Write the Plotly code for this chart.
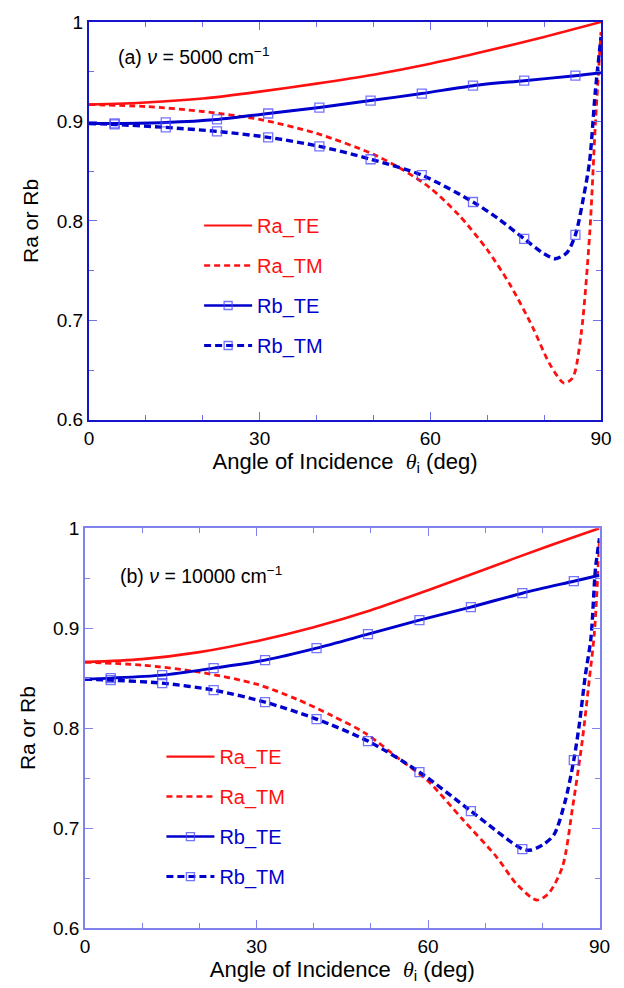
import plotly.graph_objects as go

# ---------------- data ----------------
# marker angles used on the Rb curves
marker_angles = [4.5, 13.5, 22.5, 31.5, 40.5, 49.5, 58.5, 67.5, 76.5, 85.5]

# Panel (a): nu = 5000 cm^-1
a_ra_te_ang = [0, 10, 20, 30, 40, 50, 60, 70, 80, 90]
a_ra_te = [0.917, 0.919, 0.923, 0.930, 0.938, 0.947, 0.958, 0.971, 0.985, 1.0]

a_ra_tm_ang = [0, 10, 20, 30, 40, 50, 55, 60, 65, 70, 74, 78, 81, 83.5, 85, 86.5, 88, 89, 90]
a_ra_tm = [0.917, 0.915, 0.910, 0.902, 0.888, 0.867, 0.852, 0.833, 0.806, 0.771, 0.736,
           0.693, 0.656, 0.637, 0.642, 0.686, 0.786, 0.896, 0.99]

a_rb_te_ang = [0, 4.5, 13.5, 22.5, 31.5, 40.5, 49.5, 58.5, 67.5, 76.5, 85.5, 90]
a_rb_te = [0.898, 0.898, 0.899, 0.902, 0.908, 0.914, 0.921, 0.928, 0.936, 0.941, 0.946, 0.949]

a_rb_tm_ang = [0, 4.5, 13.5, 22.5, 31.5, 40.5, 49.5, 58.5, 67.5, 72, 76.5, 80, 82, 84, 85.5,
               87, 88, 89, 90]
a_rb_tm = [0.898, 0.897, 0.894, 0.890, 0.884, 0.875, 0.862, 0.846, 0.819, 0.802, 0.782,
           0.767, 0.762, 0.768, 0.786, 0.826, 0.860, 0.930, 0.985]

# Panel (b): nu = 10000 cm^-1
b_ra_te_ang = [0, 10, 20, 30, 40, 50, 60, 70, 80, 90]
b_ra_te = [0.866, 0.869, 0.876, 0.887, 0.901, 0.918, 0.938, 0.959, 0.980, 1.0]

b_ra_tm_ang = [0, 10, 20, 30, 37, 43, 49, 55, 60, 66, 72, 75.5, 79, 81, 83.5, 85.3, 87,
               88.2, 89.1, 90]
b_ra_tm = [0.866, 0.863, 0.856, 0.844, 0.829, 0.813, 0.795, 0.769, 0.747, 0.709, 0.671,
           0.644, 0.628, 0.634, 0.661, 0.721, 0.788, 0.848, 0.895, 0.99]

b_rb_te_ang = [0, 4.5, 13.5, 22.5, 31.5, 40.5, 49.5, 58.5, 67.5, 76.5, 85.5, 90]
b_rb_te = [0.849, 0.850, 0.853, 0.860, 0.868, 0.880, 0.894, 0.908, 0.921, 0.935, 0.947, 0.953]

b_rb_tm_ang = [0, 4.5, 13.5, 22.5, 31.5, 40.5, 49.5, 58.5, 67.5, 76.5, 78, 80, 82, 84, 85.5,
               86.5, 87.5, 88.5, 89.3, 90]
b_rb_tm = [0.849, 0.848, 0.845, 0.838, 0.826, 0.809, 0.787, 0.756, 0.717, 0.679, 0.678,
           0.683, 0.693, 0.727, 0.768, 0.805, 0.852, 0.890, 0.960, 0.99]

series_names = ["Ra_TE", "Ra_TM", "Rb_TE", "Rb_TM"]
panel_labels = ["(a) <i>ν</i> = 5000 cm<sup>−1</sup>", "(b) <i>ν</i> = 10000 cm<sup>−1</sup>"]
x_ticks = [0, 30, 60, 90]
y_ticks = [0.6, 0.7, 0.8, 0.9, 1.0]
y_ticktext = ["0.6", "0.7", "0.8", "0.9", "1"]

# ---------------- styles ----------------
RED = "#ff1010"
BLUE = "#0000cc"
MK = "rgba(70,70,255,0.75)"
FONT = "Liberation Sans, Arial, Helvetica, sans-serif"

styles = {
    "Ra_TE": dict(color=RED, width=2.6, dash="solid"),
    "Ra_TM": dict(color=RED, width=2.8, dash="6px,4px"),
    "Rb_TE": dict(color=BLUE, width=3, dash="solid"),
    "Rb_TM": dict(color=BLUE, width=3.4, dash="7px,4px"),
}

fig = go.Figure()

panels = [
    ("x", "y", "legend", {
        "Ra_TE": (a_ra_te_ang, a_ra_te), "Ra_TM": (a_ra_tm_ang, a_ra_tm),
        "Rb_TE": (a_rb_te_ang, a_rb_te), "Rb_TM": (a_rb_tm_ang, a_rb_tm)}),
    ("x2", "y2", "legend2", {
        "Ra_TE": (b_ra_te_ang, b_ra_te), "Ra_TM": (b_ra_tm_ang, b_ra_tm),
        "Rb_TE": (b_rb_te_ang, b_rb_te), "Rb_TM": (b_rb_tm_ang, b_rb_tm)}),
]

for xa, ya, lg, data in panels:
    for name in series_names:
        xs, ys = data[name]
        st = styles[name]
        fig.add_trace(go.Scatter(
            x=xs, y=ys, mode="lines", xaxis=xa, yaxis=ya, showlegend=False,
            line=dict(color=st["color"], width=st["width"], dash=st["dash"],
                      shape="spline", smoothing=0.8),
            hoverinfo="skip"))
        if name.startswith("Rb"):
            mx = [a for a in xs if a in marker_angles]
            my = [v for a, v in zip(xs, ys) if a in marker_angles]
            fig.add_trace(go.Scatter(
                x=mx, y=my, mode="markers", xaxis=xa, yaxis=ya, showlegend=False,
                marker=dict(symbol="square-open", size=9, color=MK,
                            line=dict(width=1.3, color=MK)),
                hoverinfo="skip"))
    # legend entries
    for name in series_names:
        st = styles[name]
        is_rb = name.startswith("Rb")
        fig.add_trace(go.Scatter(
            x=[None], y=[None], xaxis=xa, yaxis=ya,
            mode="lines+markers" if is_rb else "lines",
            name=f'<span style="color:{st["color"]}">{name}</span>',
            legend=lg, legendgroup=lg + name, showlegend=True,
            line=dict(color=st["color"], width=st["width"] - 0.4, dash=st["dash"]),
            marker=dict(symbol="square-open", size=8, color=MK,
                        line=dict(width=1.3, color=MK))))

# ---------------- layout ----------------
W, H = 624, 988
ML, MR, MT, MB = 85, 19, 19, 58
PW, PH = W - ML - MR, H - MT - MB


def px_x(p):
    return (p - ML) / PW


def px_y(p):
    return (H - MB - p) / PH


def axis_common(linecolor, linewidth, tickcolor):
    return dict(
        showgrid=False, zeroline=False, showline=True, mirror="allticks",
        linecolor=linecolor, linewidth=linewidth,
        ticks="inside", ticklen=8, tickwidth=1, tickcolor=tickcolor,
        tickfont=dict(family=FONT, size=19, color="black"),
    )


xtitle = dict(text='Angle of Incidence  <i><span style="font-family:Liberation Serif">θ</span></i><sub>i</sub> (deg)',
              font=dict(family=FONT, size=22, color="black"), standoff=4)
ytitle = dict(text="Ra or Rb", font=dict(family=FONT, size=21, color="black"), standoff=12)

top_ax = axis_common("#1414c8", 2, "#7070e8")
bot_ax = axis_common("#8282ee", 1.6, "#8282ee")

fig.update_layout(
    width=W, height=H,
    margin=dict(l=ML, r=MR, t=MT, b=MB),
    paper_bgcolor="white", plot_bgcolor="white",
    font=dict(family=FONT, size=18, color="black"),
    xaxis=dict(**top_ax, domain=[px_x(89), 1.0], anchor="y", range=[0, 90],
               tickvals=x_ticks, minor=dict(dtick=10, ticks="inside", ticklen=5,
                                            tickcolor="#7070e8", showgrid=False),
               title=xtitle),
    yaxis=dict(**top_ax, domain=[px_y(419), 1.0], anchor="x", range=[0.6, 1.0],
               tickvals=y_ticks, ticktext=y_ticktext,
               minor=dict(dtick=0.05, ticks="inside", ticklen=5,
                          tickcolor="#7070e8", showgrid=False),
               title=ytitle),
    xaxis2=dict(**bot_ax, domain=[0.0, px_x(603.5)], anchor="y2", range=[0, 90],
                tickvals=x_ticks, minor=dict(dtick=10, ticks="inside", ticklen=5,
                                             tickcolor="#8282ee", showgrid=False),
                title=xtitle),
    yaxis2=dict(**bot_ax, domain=[0.0, px_y(528)], anchor="x2", range=[0.6, 1.0],
                tickvals=y_ticks, ticktext=y_ticktext,
                minor=dict(dtick=0.05, ticks="inside", ticklen=5,
                           tickcolor="#8282ee", showgrid=False),
                title=ytitle),
    legend=dict(x=px_x(200), y=px_y(204), xanchor="left", yanchor="top",
                bgcolor="rgba(0,0,0,0)", font=dict(family=FONT, size=20),
                itemwidth=48, tracegroupgap=11, traceorder="grouped"),
    legend2=dict(x=px_x(162), y=px_y(738), xanchor="left", yanchor="top",
                 bgcolor="rgba(0,0,0,0)", font=dict(family=FONT, size=20),
                 itemwidth=48, tracegroupgap=11, traceorder="grouped"),
    annotations=[
        dict(text=panel_labels[0], xref="paper", yref="paper", x=px_x(116), y=px_y(53),
             xanchor="left", yanchor="middle", showarrow=False,
             font=dict(family=FONT, size=19.5, color="black")),
        dict(text=panel_labels[1], xref="paper", yref="paper", x=px_x(118), y=px_y(575),
             xanchor="left", yanchor="middle", showarrow=False,
             font=dict(family=FONT, size=19.5, color="black")),
    ],
)

fig.write_html("out.html")
